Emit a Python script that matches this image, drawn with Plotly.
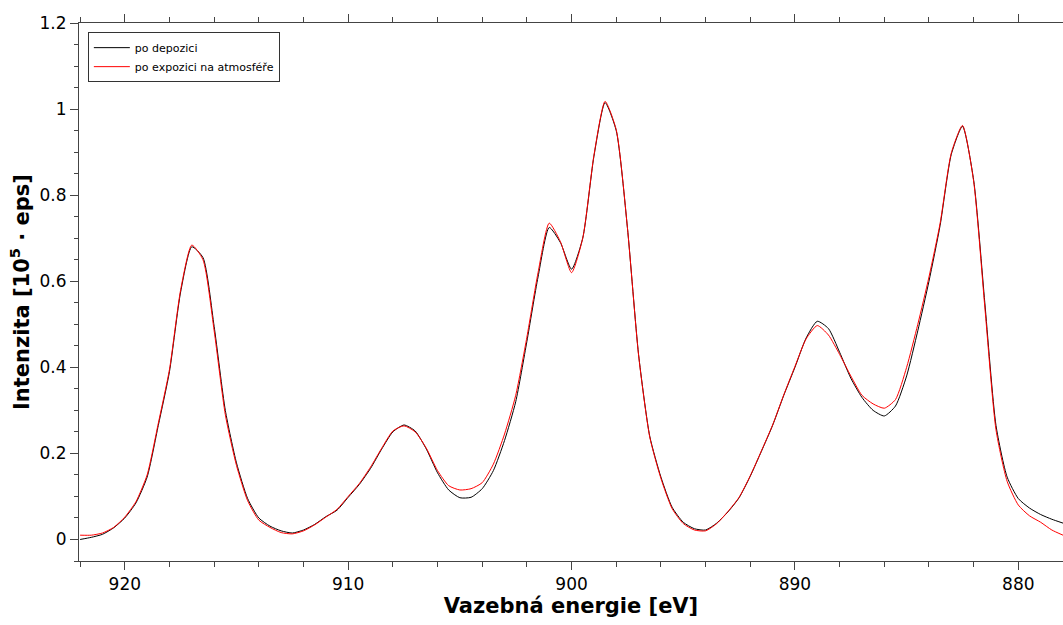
import plotly.graph_objects as go

# Binding energy grid [eV]
energy = [922.0 - 0.5 * i for i in range(89)]

# po depozici (black)
po_depozici = [
    0.000, 0.005, 0.012, 0.027, 0.050, 0.085, 0.145, 0.265, 0.390, 0.575,
    0.680, 0.655, 0.495, 0.300, 0.178, 0.095, 0.050, 0.031, 0.020, 0.015,
    0.022, 0.035, 0.053, 0.068, 0.098, 0.128, 0.165, 0.210, 0.250, 0.266,
    0.252, 0.210, 0.155, 0.115, 0.097, 0.098, 0.118, 0.160, 0.230, 0.320,
    0.460, 0.610, 0.725, 0.690, 0.628, 0.700, 0.890, 1.015, 0.950, 0.725,
    0.430, 0.240, 0.145, 0.075, 0.040, 0.025, 0.022, 0.038, 0.064, 0.097,
    0.147, 0.205, 0.265, 0.335, 0.400, 0.468, 0.507, 0.490, 0.435, 0.375,
    0.330, 0.300, 0.287, 0.310, 0.380, 0.485, 0.600, 0.730, 0.895, 0.960,
    0.835, 0.550, 0.265, 0.145, 0.095, 0.073, 0.058, 0.047, 0.038,
]

# po expozici na atmosféře (red)
po_expozici = [
    0.010, 0.010, 0.015, 0.028, 0.052, 0.088, 0.150, 0.270, 0.395, 0.580,
    0.684, 0.650, 0.485, 0.290, 0.172, 0.090, 0.045, 0.028, 0.016, 0.013,
    0.020, 0.034, 0.052, 0.070, 0.100, 0.130, 0.168, 0.212, 0.252, 0.264,
    0.250, 0.212, 0.160, 0.125, 0.115, 0.118, 0.132, 0.175, 0.245, 0.335,
    0.470, 0.620, 0.735, 0.692, 0.620, 0.700, 0.892, 1.018, 0.952, 0.725,
    0.428, 0.238, 0.142, 0.072, 0.037, 0.022, 0.020, 0.037, 0.065, 0.098,
    0.148, 0.206, 0.266, 0.336, 0.402, 0.466, 0.497, 0.475, 0.430, 0.380,
    0.335, 0.315, 0.305, 0.325, 0.400, 0.500, 0.610, 0.735, 0.898, 0.962,
    0.832, 0.540, 0.255, 0.135, 0.080, 0.055, 0.040, 0.022, 0.010,
]

y_tickvals = [0, 0.2, 0.4, 0.6, 0.8, 1.0, 1.2]
y_ticktext = ["0", "0.2", "0.4", "0.6", "0.8", "1", "1.2"]
x_tickvals = [920, 910, 900, 890, 880]
x_ticktext = ["920", "910", "900", "890", "880"]

FONT = "DejaVu Sans"
AX = "#444444"

fig = go.Figure()
fig.add_trace(go.Scatter(x=energy, y=po_depozici, mode="lines", name="po depozici",
                         line=dict(color="black", width=1, shape="spline", smoothing=0.6)))
fig.add_trace(go.Scatter(x=energy, y=po_expozici, mode="lines", name="po expozici na atmosféře",
                         line=dict(color="red", width=1, shape="spline", smoothing=0.6)))

fig.update_layout(
    width=1063, height=625,
    margin=dict(l=79, r=0, t=23, b=64),
    paper_bgcolor="white", plot_bgcolor="white",
    font=dict(family=FONT, color="black", size=17),
    legend=dict(x=0.009, y=0.983, xanchor="left", yanchor="top",
                bgcolor="white", bordercolor="#333333", borderwidth=1,
                font=dict(size=11, family=FONT), tracegroupgap=0,
                itemwidth=36),
    showlegend=True,
)
fig.update_xaxes(
    range=[922.05, 878.0], autorange=False,
    tickvals=x_tickvals, ticktext=x_ticktext,
    ticks="outside", ticklen=8, tickwidth=1, tickcolor=AX,
    minor=dict(dtick=2, ticks="outside", ticklen=5, tickcolor=AX, tickwidth=1),
    showline=True, linecolor=AX, linewidth=1, mirror="ticks",
    showgrid=False, zeroline=False,
    tickfont=dict(size=17, family=FONT),
    title=dict(text="<b>Vazebná energie [eV]</b>", font=dict(size=21, family=FONT), standoff=4),
)
fig.update_yaxes(
    range=[-0.05, 1.2], autorange=False,
    tickvals=y_tickvals, ticktext=y_ticktext,
    ticks="outside", ticklen=8, tickwidth=1, tickcolor=AX,
    minor=dict(dtick=0.05, tick0=0, ticks="outside", ticklen=4, tickcolor=AX, tickwidth=1),
    showline=True, linecolor=AX, linewidth=1, mirror=False,
    showgrid=False, zeroline=False,
    tickfont=dict(size=17, family=FONT),
    title=dict(text="<b>Intenzita [10<sup>5</sup> · eps]</b>", font=dict(size=21, family=FONT), standoff=4),
)

fig.write_html("out.html")
